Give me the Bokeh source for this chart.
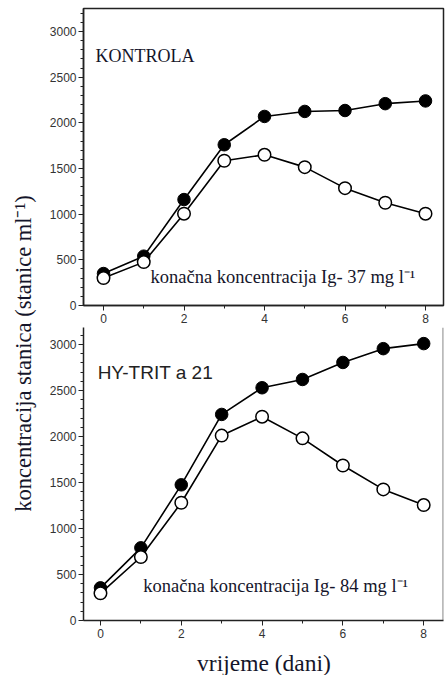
from bokeh.plotting import figure
from bokeh.layouts import row, column
from bokeh.models import Label, SingleIntervalTicker, Span, Range1d
from bokeh.embed import file_html
from bokeh.resources import INLINE
import math

days = [0, 1, 2, 3, 4, 5, 6, 7, 8]
ctrl_filled = [350, 540, 1160, 1760, 2070, 2125, 2135, 2210, 2240]
ctrl_open = [300, 475, 1005, 1585, 1650, 1515, 1285, 1125, 1005]
hy_filled = [355, 790, 1475, 2240, 2530, 2620, 2805, 2955, 3010]
hy_open = [295, 690, 1280, 2010, 2215, 1980, 1685, 1425, 1255]

title_top = "KONTROLA"
title_bottom = "HY-TRIT a 21"
note_top = "konačna koncentracija Ig- 37 mg l⁻¹"
note_bottom = "konačna koncentracija Ig- 84 mg l⁻¹"
y_title = "koncentracija stanica (stanice ml⁻¹)"
x_title = "vrijeme (dani)"

TXT = "#15152a"
SERIF = "Liberation Serif"
SANS = "Liberation Sans"


def style_axes(p):
    p.xaxis.ticker = SingleIntervalTicker(interval=2, num_minor_ticks=2)
    p.yaxis.ticker = SingleIntervalTicker(interval=500, num_minor_ticks=5)
    for ax in p.xaxis + p.yaxis:
        ax.major_label_text_font = SANS
        ax.major_label_text_font_size = "12px"
        ax.major_label_text_color = "#333333"
        ax.axis_line_color = "#222222"
        ax.axis_line_width = 1.5
        ax.major_tick_line_color = "#222222"
        ax.minor_tick_line_color = "#222222"
        ax.major_tick_out = 5
        ax.major_tick_in = 0
        ax.minor_tick_out = 3
        ax.minor_tick_in = 0
    p.xaxis.major_label_standoff = 3
    p.yaxis.major_label_standoff = 2
    p.grid.visible = False


def draw(p, filled, opn):
    p.line(days, filled, line_color="black", line_width=1.6)
    p.line(days, opn, line_color="black", line_width=1.6)
    p.scatter(days, filled, size=12.5, fill_color="black", line_color="black")
    p.scatter(days, opn, size=12.5, fill_color="white", line_color="black", line_width=1.5)


def blank(w, h):
    f = figure(width=w, height=h, output_backend="svg", toolbar_location=None,
               x_range=Range1d(0, w), y_range=Range1d(0, h), min_border=0)
    f.axis.visible = False
    f.grid.visible = False
    f.outline_line_color = None
    return f


# top panel
top = figure(width=407, height=327, output_backend="svg", toolbar_location=None,
             x_range=Range1d(-0.497, 8.447), y_range=Range1d(0, 3252),
             min_border_left=45, min_border_right=2, min_border_top=8, min_border_bottom=22)
style_axes(top)
top.outline_line_color = "#222222"
top.outline_line_width = 1.5
draw(top, ctrl_filled, ctrl_open)
top.add_layout(Label(x=-0.2, y=2737, text=title_top, text_font=SERIF,
                     text_font_size="18px", text_color=TXT, text_baseline="alphabetic"))
top.add_layout(Label(x=1.17, y=307, text=note_top, text_font=SERIF,
                     text_font_size="18.5px", text_color=TXT, text_baseline="alphabetic"))

# bottom panel
bot = figure(width=407, height=315, output_backend="svg", toolbar_location=None,
             x_range=Range1d(-0.42, 8.49), y_range=Range1d(0, 3185),
             min_border_left=45, min_border_right=2, min_border_top=0, min_border_bottom=22)
style_axes(bot)
bot.outline_line_color = None
bot.add_layout(Span(location=8.48, dimension="height", line_color="#555555", line_width=1))
draw(bot, hy_filled, hy_open)
bot.add_layout(Label(x=-0.07, y=2696, text=title_bottom, text_font=SANS,
                     text_font_size="19px", text_color="#222222", text_baseline="alphabetic"))
bot.add_layout(Label(x=1.06, y=380, text=note_bottom, text_font=SERIF,
                     text_font_size="18.5px", text_color=TXT, text_baseline="alphabetic"))

# x-title strip
xlab = blank(407, 33)
xlab.add_layout(Label(x=204, y=13, text=x_title, text_font=SERIF, text_font_size="23.5px",
                      text_color=TXT, text_align="center", text_baseline="middle"))

# y-title strip
lab = blank(38, 675)
lab.add_layout(Label(x=23, y=322, text=y_title, angle=math.pi / 2, text_font=SERIF,
                     text_font_size="22.5px", text_color=TXT, text_align="center",
                     text_baseline="middle"))

layout = row(lab, column(top, bot, xlab, spacing=0), spacing=0)
open("out.html", "w").write(file_html(layout, INLINE))
